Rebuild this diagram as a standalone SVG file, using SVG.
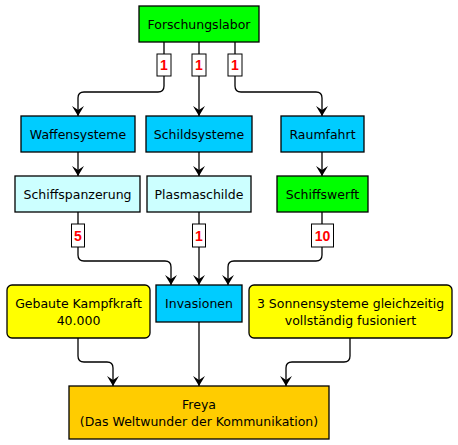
<svg xmlns="http://www.w3.org/2000/svg" width="458" height="445" viewBox="0 0 458 445">
<style>
.box{stroke:#000;stroke-width:1.3}
.t{font-family:"DejaVu Sans",Verdana,sans-serif;font-size:12.5px;fill:#000;text-anchor:middle}
.lb{fill:#fff;stroke:#000;stroke-width:1}
.lt{font-family:"Liberation Sans",Arial,sans-serif;font-size:14px;font-weight:bold;fill:#f00;text-anchor:middle}
.c{fill:none;stroke:#000;stroke-width:1.3}
</style>
<defs>
<marker id="ah" markerUnits="userSpaceOnUse" markerWidth="12" markerHeight="12" viewBox="0 -6 10 12" refX="10" refY="0" orient="auto">
<path d="M0,-6 L10,0 L0,6 L4,0 z" fill="#000"/>
</marker>
</defs>
<rect width="458" height="445" fill="#fff"/>
<g id="connectors">
<path class="c" d="M164,42 V86 Q164,92 158,92 H84 Q78,92 78,98 V116" marker-end="url(#ah)"/>
<path class="c" d="M199,42 V116" marker-end="url(#ah)"/>
<path class="c" d="M235,42 V86 Q235,92 241,92 H316 Q322,92 322,98 V116" marker-end="url(#ah)"/>
<path class="c" d="M78,152 V176" marker-end="url(#ah)"/>
<path class="c" d="M199,152 V176" marker-end="url(#ah)"/>
<path class="c" d="M322,152 V176" marker-end="url(#ah)"/>
<path class="c" d="M78,212 V255 Q78,261 84,261 H165 Q171,261 171,267 V285" marker-end="url(#ah)"/>
<path class="c" d="M199,212 V285" marker-end="url(#ah)"/>
<path class="c" d="M322,212 V255 Q322,261 316,261 H234 Q228,261 228,267 V285" marker-end="url(#ah)"/>
<path class="c" d="M78,338 V356 Q78,362 84,362 H107 Q113,362 113,368 V386" marker-end="url(#ah)"/>
<path class="c" d="M199,322 V386" marker-end="url(#ah)"/>
<path class="c" d="M350,338 V356 Q350,362 344,362 H292 Q286,362 286,368 V386" marker-end="url(#ah)"/>
<g id="labels">
<rect class="lb" x="157" y="54" width="14" height="22"/><text class="lt" x="164" y="70">1</text>
<rect class="lb" x="192" y="54" width="14" height="22"/><text class="lt" x="199" y="70">1</text>
<rect class="lb" x="228" y="54" width="14" height="22"/><text class="lt" x="235" y="70">1</text>
<rect class="lb" x="71.5" y="224" width="13" height="23"/><text class="lt" x="78" y="240.5">5</text>
<rect class="lb" x="192.5" y="224" width="13" height="23"/><text class="lt" x="199" y="240.5">1</text>
<rect class="lb" x="311.5" y="224" width="22" height="23"/><text class="lt" x="322.5" y="240.5">10</text>
</g>
</g>
<g id="forschungslabor"><rect class="box" x="139" y="6" width="120" height="36" fill="#00ff00"/><text class="t" x="199" y="28.5">Forschungslabor</text></g>
<g id="waffensysteme"><rect class="box" x="21" y="116" width="114" height="36" fill="#00ccff"/><text class="t" x="78" y="138.5">Waffensysteme</text></g>
<g id="schildsysteme"><rect class="box" x="146" y="116" width="106" height="36" fill="#00ccff"/><text class="t" x="199" y="138.5">Schildsysteme</text></g>
<g id="raumfahrt"><rect class="box" x="281" y="116" width="83" height="36" fill="#00ccff"/><text class="t" x="322.5" y="138.5">Raumfahrt</text></g>
<g id="schiffspanzerung"><rect class="box" x="15" y="176" width="125" height="36" fill="#ccffff"/><text class="t" x="77.5" y="198.5">Schiffspanzerung</text></g>
<g id="plasmaschilde"><rect class="box" x="147" y="176" width="104" height="36" fill="#ccffff"/><text class="t" x="199" y="198.5">Plasmaschilde</text></g>
<g id="schiffswerft"><rect class="box" x="277" y="176" width="91" height="36" fill="#00ff00"/><text class="t" x="322.5" y="198.5">Schiffswerft</text></g>
<g id="invasionen"><rect class="box" x="156" y="285" width="86" height="37" fill="#00ccff"/><text class="t" x="199" y="308">Invasionen</text></g>
<g id="kampfkraft"><rect class="box" x="7" y="285" width="143" height="53" rx="5" fill="#ffff00"/><text class="t" x="78.5" y="308">Gebaute Kampfkraft</text><text class="t" x="78.5" y="325">40.000</text></g>
<g id="sonnensysteme"><rect class="box" x="249" y="285" width="203" height="53" rx="5" fill="#ffff00"/><text class="t" x="350.5" y="308">3 Sonnensysteme gleichzeitig</text><text class="t" x="350.5" y="325">vollständig fusioniert</text></g>
<g id="freya"><rect class="box" x="69" y="386" width="260" height="53" fill="#ffcc00"/><text class="t" x="199" y="408.5">Freya</text><text class="t" x="199" y="425.5">(Das Weltwunder der Kommunikation)</text></g>
</svg>
